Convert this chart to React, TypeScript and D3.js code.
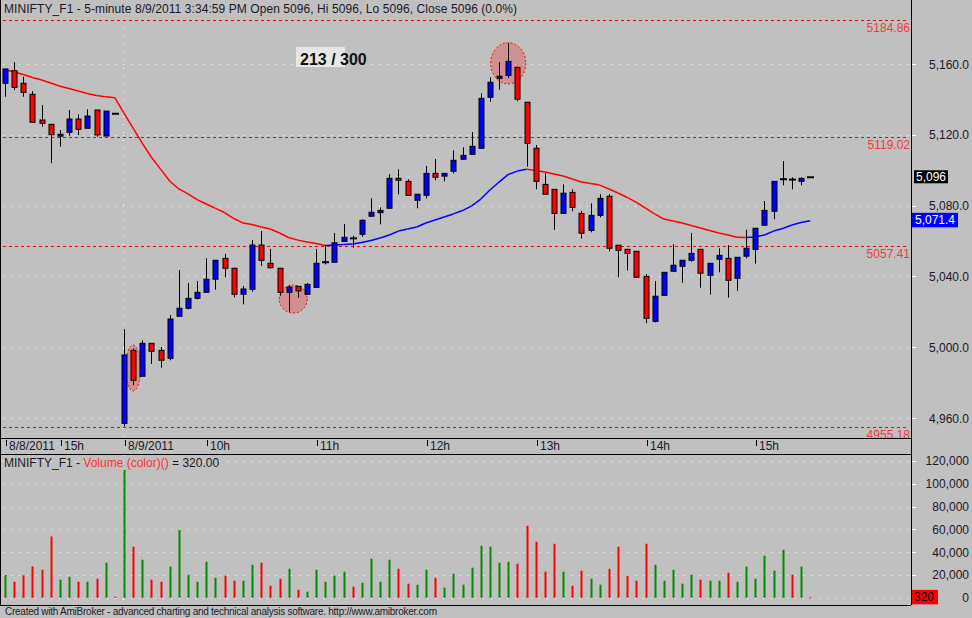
import React from "react";
import * as d3 from "d3";

// MINIFTY_F1 5-minute bars, 8/8/2011 14:30 -> 8/9/2011 15:30
const opens = [
  5149.1, 5156.2, 5149.1, 5142.9, 5128.4, 5125.9, 5119.2, 5121.4, 5128.9, 5123.7, 5134.0, 5119.3, 5131.9,
  4957.0, 4998.2, 4983.6, 5002.2, 4998.2, 4993.7, 5017.5, 5022.0, 5027.6, 5031.0, 5038.4, 5050.2, 5044.6,
  5029.9, 5032.7, 5057.7, 5047.4, 5044.6, 5031.0, 5034.4, 5029.9, 5033.8, 5048.0, 5048.0, 5059.8, 5061.5,
  5063.8, 5074.0, 5076.0, 5078.5, 5095.4, 5093.7, 5083.0, 5085.8, 5098.2, 5096.6, 5099.4, 5106.2, 5109.0,
  5112.4, 5141.2, 5151.9, 5153.6, 5158.1, 5138.4, 5112.4, 5092.0, 5089.2, 5075.6, 5087.5, 5075.6, 5066.0,
  5074.5, 5085.3, 5057.6, 5055.3, 5054.2, 5040.0, 5014.6, 5029.3, 5042.9, 5045.7, 5049.1, 5055.3, 5040.6,
  5049.7, 5050.2, 5038.9, 5051.4, 5055.3, 5068.9, 5076.8, 5094.9, 5094.7, 5093.7, 5096.0,
];
const highs = [
  5157.2, 5161.0, 5152.8, 5144.7, 5136.8, 5125.9, 5122.7, 5134.0, 5131.6, 5134.4, 5134.0, 5133.4, 5131.9,
  5010.3, 4999.3, 5003.9, 5002.2, 5000.1, 5018.2, 5043.6, 5036.3, 5037.4, 5050.2, 5049.1, 5052.7, 5044.6,
  5034.6, 5060.6, 5065.6, 5055.5, 5044.6, 5035.0, 5034.4, 5036.3, 5055.5, 5057.7, 5064.5, 5069.6, 5063.0,
  5072.3, 5084.1, 5079.0, 5097.7, 5100.5, 5094.8, 5086.4, 5102.4, 5106.3, 5098.2, 5111.2, 5112.9, 5121.6,
  5143.4, 5152.5, 5161.0, 5171.7, 5158.1, 5138.4, 5114.2, 5098.2, 5089.2, 5092.0, 5089.2, 5077.0, 5081.3,
  5086.4, 5086.4, 5057.6, 5055.3, 5054.2, 5041.2, 5037.4, 5042.3, 5058.2, 5049.1, 5064.5, 5055.3, 5047.4,
  5055.9, 5057.6, 5050.8, 5066.4, 5067.2, 5082.6, 5093.7, 5105.2, 5096.0, 5096.0, 5096.0,
];
const lows = [
  5141.5, 5145.3, 5141.5, 5127.1, 5124.6, 5104.0, 5113.3, 5119.5, 5119.9, 5123.7, 5118.9, 5119.3, 5131.9,
  4955.2, 4978.6, 4983.6, 4990.5, 4988.4, 4992.6, 5017.5, 5021.4, 5027.0, 5031.0, 5032.5, 5039.5, 5028.2,
  5024.2, 5031.4, 5046.0, 5044.4, 5029.1, 5020.1, 5028.0, 5029.9, 5033.8, 5046.8, 5048.0, 5059.8, 5056.2,
  5062.4, 5074.0, 5069.4, 5078.5, 5086.4, 5085.8, 5078.5, 5084.1, 5094.3, 5093.7, 5098.2, 5106.0, 5109.0,
  5112.4, 5138.7, 5145.5, 5152.1, 5138.9, 5102.0, 5089.2, 5086.4, 5066.4, 5075.6, 5076.8, 5061.3, 5064.9,
  5073.4, 5054.2, 5039.5, 5043.4, 5039.5, 5013.5, 5014.0, 5029.3, 5042.9, 5036.4, 5048.3, 5033.6, 5029.7,
  5042.3, 5028.0, 5031.9, 5050.2, 5047.2, 5068.9, 5072.3, 5091.5, 5089.2, 5091.5, 5096.0,
];
const closes = [
  5157.2, 5146.8, 5144.0, 5127.1, 5126.5, 5120.1, 5120.3, 5128.9, 5123.1, 5130.6, 5119.9, 5133.4, 5131.9,
  4995.6, 4981.3, 5002.2, 4997.7, 4992.6, 5015.9, 5022.0, 5027.6, 5031.0, 5038.4, 5049.1, 5044.6, 5029.9,
  5032.9, 5057.7, 5049.1, 5044.9, 5031.0, 5034.0, 5031.8, 5035.5, 5047.4, 5048.0, 5059.0, 5062.1, 5061.5,
  5071.7, 5076.2, 5077.3, 5095.4, 5094.3, 5085.8, 5086.4, 5098.2, 5096.0, 5098.2, 5105.6, 5108.4, 5113.5,
  5140.6, 5149.7, 5153.1, 5161.5, 5140.1, 5115.2, 5093.7, 5086.4, 5075.6, 5087.0, 5079.0, 5064.4, 5074.5,
  5084.1, 5055.9, 5054.7, 5053.0, 5039.5, 5016.3, 5028.8, 5042.3, 5046.3, 5049.1, 5053.0, 5041.8, 5047.4,
  5051.9, 5037.8, 5050.8, 5055.9, 5067.2, 5077.3, 5093.7, 5094.9, 5094.7, 5095.4, 5096.0,
];
const movingAvg = [
  5156.8, 5155.5, 5154.1, 5152.4, 5151.0, 5149.3, 5147.4, 5146.2, 5144.7, 5143.3, 5142.2, 5141.5, 5141.0,
  5132.3, 5123.8, 5115.3, 5107.3, 5100.6, 5093.9, 5089.4, 5086.6, 5083.4, 5080.9, 5078.4, 5076.1, 5072.7,
  5070.2, 5069.3, 5067.9, 5066.8, 5064.5, 5062.0, 5060.5, 5059.4, 5058.6, 5057.5, 5057.8, 5058.0, 5058.3,
  5059.2, 5060.3, 5061.7, 5063.4, 5065.6, 5066.8, 5067.9, 5070.2, 5071.9, 5073.6, 5075.3, 5077.2, 5079.8,
  5083.7, 5088.8, 5093.3, 5097.6, 5099.5, 5100.5, 5099.8, 5099.0, 5097.9, 5096.7, 5095.0, 5093.3, 5092.5,
  5091.6, 5089.4, 5087.1, 5084.6, 5081.8, 5078.6, 5075.3, 5072.4, 5071.3, 5070.2, 5068.8, 5067.3, 5065.9,
  5064.5, 5063.4, 5062.1, 5062.0, 5062.3, 5063.4, 5065.6, 5067.1, 5069.0, 5070.5, 5071.4,
];
const volumes = [
  19900, 14000, 19600, 27400, 24500, 53700, 15800, 18400, 14000, 14000, 16600, 30700, 900,
  112000, 44700, 33300, 15800, 14000, 27200, 59600, 20100, 14000, 31500, 17500, 19300, 14900,
  14900, 28900, 30700, 10500, 16600, 25400, 7000, 5300, 24500, 14000, 19300, 22800, 9600,
  13100, 34200, 14000, 33300, 25400, 12300, 11400, 24500, 17500, 8800, 21000, 11400, 26300,
  45600, 44700, 30700, 31500, 29800, 63100, 49100, 22800, 47300, 22800, 10500, 23700, 16600,
  11400, 25400, 44700, 19300, 14900, 47300, 28900, 14900, 24500, 12300, 20100, 15800, 14900,
  14900, 21900, 14000, 27200, 16600, 36800, 23700, 42000, 20100, 27200, 320,
];
// 1 = up volume (green), 0 = down volume (red)
const volumeUp = [
  1, 0, 0, 0, 0, 0, 1, 1, 0, 1, 0, 1, 0,
  1, 0, 1, 0, 0, 1, 1, 1, 1, 1, 1, 0, 0,
  1, 1, 0, 0, 0, 1, 0, 1, 1, 1, 1, 1, 0,
  1, 1, 1, 1, 0, 0, 1, 1, 0, 1, 1, 1, 1,
  1, 1, 1, 1, 0, 0, 0, 0, 0, 1, 0, 0, 1,
  1, 0, 0, 0, 0, 0, 1, 1, 1, 1, 1, 0, 1,
  1, 0, 1, 1, 1, 1, 1, 1, 0, 1, 0,
];

const timeTickBars = [0, 6, 13, 22, 34, 46, 58, 70, 82];
const timeTickLabels = ["8/8/2011", "15h", "8/9/2011", "10h", "11h", "12h", "13h", "14h", "15h"];
const priceTicks = [4960, 5000, 5040, 5080, 5120, 5160];
const volumeTicks = [0, 20000, 40000, 60000, 80000, 100000, 120000];
const levelLines = [5184.86, 5119.02, 5057.41, 4955.18];
const markBars = [14, 31.5, 55];
const markPrices = [4988.2, 5027.2, 5160.4];

const lastClose = 5096;
const lastAvg = 5071.4;
const lastVolume = 320;

const W = 972;
const H = 618;
const font = "'Liberation Sans', Arial, sans-serif";
const textDark = "#201828";
const plotRight = 911;
const markRadii = [
  [7.5, 23],
  [14, 14],
  [17.5, 20.7],
];

export default function App() {
  const x = d3.scaleLinear().domain([0, 88]).range([5, 810.2]);
  const y = d3.scaleLinear().domain([4960, 5160]).range([418, 64]);
  const yv = d3.scaleLinear().domain([0, 120000]).range([597.7, 460.9]);
  const fmtPrice = d3.format(",.1f");
  const fmtVol = d3.format(",");

  const bars = d3.range(opens.length);
  const dayLine = x(13) - 0.5;

  return (
    <div style={{ position: "absolute", left: 0, top: 0 }}>
      <svg width={W} height={H} style={{ display: "block", fontFamily: font }}>
        <rect x={0} y={0} width={W} height={H} fill="#c0c0c0" />

        {/* grid */}
        {priceTicks.map((t) => (
          <line key={"pg" + t} x1={3} x2={plotRight} y1={Math.round(y(t)) + 0.5} y2={Math.round(y(t)) + 0.5}
            stroke="#ffffff" strokeDasharray="1 7" />
        ))}
        {volumeTicks.map((t) => (
          <line key={"vg" + t} x1={3} x2={plotRight} y1={Math.round(yv(t)) + 0.5} y2={Math.round(yv(t)) + 0.5}
            stroke="#ffffff" strokeDasharray="1 7" />
        ))}
        <line x1={dayLine} x2={dayLine} y1={20} y2={438} stroke="#ffffff" strokeDasharray="1 7" />
        <line x1={dayLine} x2={dayLine} y1={455} y2={605} stroke="#ffffff" strokeDasharray="1 7" />

        {/* level lines */}
        {levelLines.map((v) => (
          <g key={"lv" + v}>
            <line x1={3} x2={plotRight - 2} y1={Math.round(y(v)) + 0.5} y2={Math.round(y(v)) + 0.5}
              stroke="#ff0000" strokeDasharray="3 3" />
            <text x={plotRight - 1} y={y(v) + 12} textAnchor="end" fontSize={12} fill="#f03c3c">
              {v.toFixed(2)}
            </text>
          </g>
        ))}

        {/* annotation marks */}
        {markBars.map((b, k) => (
          <ellipse key={"mk" + k} cx={x(b)} cy={y(markPrices[k])} rx={markRadii[k][0]} ry={markRadii[k][1]}
            fill="rgba(255,0,0,0.25)" stroke="#ff0000" strokeDasharray="2 2" />
        ))}

        {/* moving average, coloured by slope */}
        {bars.slice(1).map((i) => (
          <line key={"ma" + i} x1={x(i - 1)} y1={y(movingAvg[i - 1])} x2={x(i)} y2={y(movingAvg[i])}
            stroke={movingAvg[i] > movingAvg[i - 1] ? "#0000ff" : "#ff0000"} strokeWidth={1.5} />
        ))}

        {/* candles */}
        {bars.map((i) => {
          const cx = Math.round(x(i)) + 0.5;
          const o = opens[i], c = closes[i], h = highs[i], l = lows[i];
          if (h === l) {
            return <line key={"c" + i} x1={cx - 3.5} x2={cx + 3.5} y1={y(c)} y2={y(c)} stroke="#000" strokeWidth={2} />;
          }
          const wick = <line x1={cx} x2={cx} y1={y(h)} y2={y(l)} stroke="#000" strokeWidth={1} />;
          if (o === c) {
            return (
              <g key={"c" + i}>
                {wick}
                <line x1={cx - 3.5} x2={cx + 3.5} y1={y(c)} y2={y(c)} stroke="#000" strokeWidth={2} />
              </g>
            );
          }
          const top = y(Math.max(o, c));
          const hgt = Math.max(1, Math.abs(y(o) - y(c)));
          return (
            <g key={"c" + i}>
              {wick}
              <rect x={cx - 2.5} y={top} width={5} height={hgt} fill={c > o ? "#0000ff" : "#ff0000"}
                stroke="#000" strokeWidth={1} />
            </g>
          );
        })}

        {/* volume bars */}
        {bars.map((i) => (
          <rect key={"v" + i} x={Math.round(x(i)) - 0.5} y={yv(volumes[i])} width={2}
            height={Math.max(1, yv(0) - yv(volumes[i]))} fill={volumeUp[i] ? "#008c00" : "#ff0000"} />
        ))}

        {/* "213 / 300" label */}
        <rect x={296} y={47} width={49} height={20} fill="#e6e6e6" />
        <text x={300} y={65} fontSize={16} fontWeight="bold" fill="#111">213 / 300</text>

        {/* frames */}
        <line x1={0.5} x2={0.5} y1={0} y2={605} stroke="#000" />
        <line x1={plotRight + 0.5} x2={plotRight + 0.5} y1={0} y2={605} stroke="#000" />
        <line x1={0} x2={plotRight} y1={438.5} y2={438.5} stroke="#000" />
        <line x1={0} x2={plotRight} y1={454.5} y2={454.5} stroke="#000" />
        <line x1={0} x2={plotRight} y1={605.5} y2={605.5} stroke="#000" />

        {/* price axis */}
        {priceTicks.map((t) => (
          <g key={"pa" + t}>
            <line x1={plotRight + 1} x2={plotRight + 5} y1={Math.round(y(t)) + 0.5} y2={Math.round(y(t)) + 0.5} stroke="#ffffff" />
            <text x={969} y={y(t) + 4.5} textAnchor="end" fontSize={12} fill={textDark}>{fmtPrice(t)}</text>
          </g>
        ))}
        <rect x={914} y={y(lastClose) - 7} width={34} height={13} fill="#000" />
        <text x={916} y={y(lastClose) + 3.5} fontSize={12} fill="#fff">{d3.format(",")(lastClose)}</text>
        <rect x={912} y={y(lastAvg) - 8} width={46} height={14.5} fill="#0000ff" />
        <text x={915} y={y(lastAvg) + 3.5} fontSize={12} fill="#fff">{fmtPrice(lastAvg)}</text>

        {/* volume axis */}
        {volumeTicks.map((t) => (
          <g key={"va" + t}>
            <line x1={plotRight + 1} x2={plotRight + 5} y1={Math.round(yv(t)) + 0.5} y2={Math.round(yv(t)) + 0.5} stroke="#ffffff" />
            <text x={969} y={yv(t) + 4.5} textAnchor="end" fontSize={12} fill={textDark}>{fmtVol(t)}</text>
          </g>
        ))}
        <rect x={912} y={yv(lastVolume) - 7.5} width={26} height={14.5} fill="#ff0000" />
        <text x={914} y={yv(lastVolume) + 4} fontSize={12} fill="#000">{lastVolume}</text>

        {/* time axis */}
        {timeTickBars.map((b, k) => (
          <g key={"ta" + b}>
            <line x1={Math.round(x(b)) + 1.5} x2={Math.round(x(b)) + 1.5} y1={440} y2={446} stroke="#000" />
            <text x={Math.round(x(b)) + 4} y={449.5} fontSize={12} fill={textDark}>{timeTickLabels[k]}</text>
          </g>
        ))}

        {/* titles */}
        <text x={4} y={12.5} fontSize={12} fill={textDark} textLength={513} lengthAdjust="spacing">
          MINIFTY_F1 - 5-minute 8/9/2011 3:34:59 PM Open 5096, Hi 5096, Lo 5096, Close 5096 (0.0%)
        </text>
        <text x={4} y={467} fontSize={12} fill={textDark}>
          MINIFTY_F1 - <tspan fill="#ff3030">Volume (color)()</tspan> = {lastVolume.toFixed(2)}
        </text>
        <text x={5} y={615} fontSize={10} fill={textDark} textLength={432} lengthAdjust="spacing">
          Created with AmiBroker - advanced charting and technical analysis software. http://www.amibroker.com
        </text>
      </svg>
    </div>
  );
}
